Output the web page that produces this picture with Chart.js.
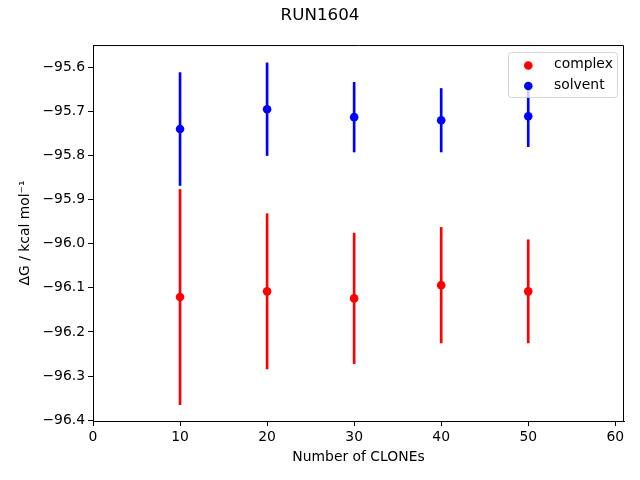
<!DOCTYPE html>
<html><head><meta charset="utf-8">
<script src="https://cdn.jsdelivr.net/npm/chart.js@4"></script>
<style>html,body{margin:0;padding:0;background:#fff}#wrap{width:640px;height:480px}</style>
</head><body><div id="wrap"><canvas id="c" width="640" height="480"></canvas></div>
<script>
const clones = [10, 20, 30, 40, 50];
const complexMean = [-96.121, -96.108, -96.124, -96.094, -96.108];
const complexErr = [0.244, 0.176, 0.148, 0.131, 0.117];
const solventMean = [-95.740, -95.695, -95.713, -95.720, -95.711];
const solventErr = [0.128, 0.105, 0.079, 0.072, 0.069];
const xTicks = [0, 10, 20, 30, 40, 50, 60];
const yTicks = [-96.4, -96.3, -96.2, -96.1, -96.0, -95.9, -95.8, -95.7, -95.6];
const seriesNames = ['complex', 'solvent'];
const seriesColors = ['#ff0000', '#0000ff'];

const FONT = 'DejaVu Sans';
Chart.defaults.font.family = FONT;
Chart.defaults.color = '#000';

function errData(means, errs) {
  return clones.map((x, i) => ({ x: x, y: [means[i] - errs[i], means[i] + errs[i]] }));
}
function ptData(means) {
  return clones.map((x, i) => ({ x: x, y: means[i] }));
}

const frameLegend = {
  id: 'frameLegend',
  afterDatasetsDraw(chart) {
    const ctx = chart.ctx, a = chart.chartArea;
    ctx.save();
    ctx.strokeStyle = '#000';
    ctx.lineWidth = 1;
    ctx.beginPath();
    ctx.moveTo(a.left, a.top + 0.5);
    ctx.lineTo(a.right - 0.5, a.top + 0.5);
    ctx.lineTo(a.right - 0.5, a.bottom);
    ctx.stroke();
    // legend
    const lx = 508.5, ly = 52.5, lw = 109, lh = 45, r = 3;
    ctx.beginPath();
    ctx.moveTo(lx + r, ly);
    ctx.lineTo(lx + lw - r, ly); ctx.quadraticCurveTo(lx + lw, ly, lx + lw, ly + r);
    ctx.lineTo(lx + lw, ly + lh - r); ctx.quadraticCurveTo(lx + lw, ly + lh, lx + lw - r, ly + lh);
    ctx.lineTo(lx + r, ly + lh); ctx.quadraticCurveTo(lx, ly + lh, lx, ly + lh - r);
    ctx.lineTo(lx, ly + r); ctx.quadraticCurveTo(lx, ly, lx + r, ly);
    ctx.closePath();
    ctx.fillStyle = 'rgba(255,255,255,0.8)';
    ctx.fill();
    ctx.strokeStyle = 'rgba(204,204,204,0.8)';
    ctx.stroke();
    ctx.font = '13.9px ' + FONT;
    ctx.textBaseline = 'middle';
    ctx.textAlign = 'left';
    seriesNames.forEach((name, i) => {
      const y = 65.5 + i * 20.5;
      ctx.beginPath();
      ctx.fillStyle = seriesColors[i];
      ctx.arc(528.3, y, 4.3, 0, Math.PI * 2);
      ctx.fill();
      ctx.fillStyle = '#000';
      ctx.fillText(name, 554, y - 1);
    });
    ctx.restore();
  }
};

new Chart(document.getElementById('c'), {
  type: 'scatter',
  data: {
    datasets: [
      { type: 'scatter', label: seriesNames[0], data: ptData(complexMean), pointRadius: 4.3, pointHoverRadius: 4.3,
        backgroundColor: seriesColors[0], borderWidth: 0, order: 0 },
      { type: 'scatter', label: seriesNames[1], data: ptData(solventMean), pointRadius: 4.3, pointHoverRadius: 4.3,
        backgroundColor: seriesColors[1], borderWidth: 0, order: 0 },
      { type: 'bar', label: 'complex err', data: errData(complexMean, complexErr), backgroundColor: seriesColors[0],
        barThickness: 2, grouped: false, borderWidth: 0, order: 1 },
      { type: 'bar', label: 'solvent err', data: errData(solventMean, solventErr), backgroundColor: seriesColors[1],
        barThickness: 2, grouped: false, borderWidth: 0, order: 1 }
    ]
  },
  options: {
    responsive: false,
    animation: false,
    devicePixelRatio: 1,
    layout: { padding: { left: 0, right: 0, top: 0, bottom: 0 } },
    plugins: {
      legend: { display: false },
      tooltip: { enabled: false },
      title: { display: true, text: 'RUN1604', font: { size: 16.7, weight: 'normal', family: FONT }, color: '#000',
        padding: { top: 6, bottom: 19 } }
    },
    scales: {
      x: {
        type: 'linear', min: 0, max: 61, offset: false,
        afterBuildTicks: s => { s.ticks = xTicks.map(v => ({ value: v })); },
        afterFit: s => { s.height = 59; },
        ticks: { font: { size: 13.9 }, color: '#000', padding: 3, callback: v => String(v) },
        grid: { offset: false, drawOnChartArea: false, drawTicks: true, tickLength: 5, tickColor: '#000', tickWidth: 1 },
        border: { display: true, color: '#000', width: 1 },
        title: { display: true, text: 'Number of CLONEs', font: { size: 13.9 }, color: '#000', padding: { top: 0, bottom: 14 } }
      },
      y: {
        type: 'linear', min: -96.402, max: -95.5495,
        afterBuildTicks: s => { s.ticks = yTicks.map(v => ({ value: v })); },
        afterFit: s => { s.width = 93; },
        ticks: { font: { size: 13.9 }, color: '#000', padding: 3,
          callback: v => (v < 0 ? '\u2212' : '') + Math.abs(v).toFixed(1) },
        grid: { drawOnChartArea: false, drawTicks: true, tickLength: 5, tickColor: '#000', tickWidth: 1 },
        border: { display: true, color: '#000', width: 1 },
        title: { display: true, text: '\u0394G / kcal mol\u207B\u00B9', font: { size: 13.9 }, color: '#000', padding: { top: 17, bottom: 0 } }
      },
      yRight: {
        type: 'linear', position: 'right', display: true, min: 0, max: 1,
        afterFit: s => { s.width = 16; },
        ticks: { display: false },
        grid: { display: false, drawTicks: false },
        border: { display: false }
      }
    }
  },
  plugins: [frameLegend]
});
</script>
</body></html>
